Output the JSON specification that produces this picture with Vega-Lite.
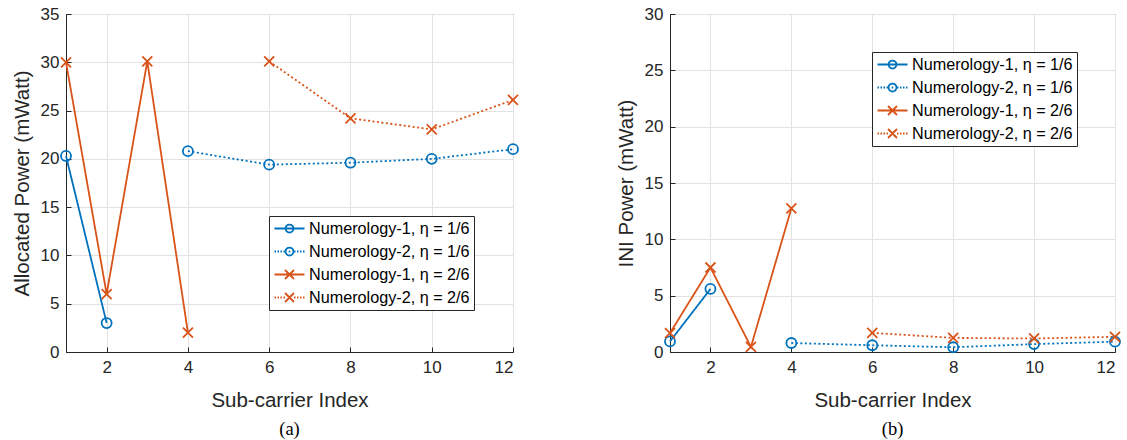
{
  "$schema": "https://vega.github.io/schema/vega-lite/v6.json",
  "padding": {"left": 11, "top": 4, "right": 5, "bottom": 2},
  "background": "white",
  "datasets": {
    "a": [
      {"x": 1, "y": 20.3, "s": "Numerology-1, η = 1/6"},
      {"x": 2, "y": 3.0, "s": "Numerology-1, η = 1/6"},
      {"x": 4, "y": 20.8, "s": "Numerology-2, η = 1/6"},
      {"x": 6, "y": 19.4, "s": "Numerology-2, η = 1/6"},
      {"x": 8, "y": 19.6, "s": "Numerology-2, η = 1/6"},
      {"x": 10, "y": 20.0, "s": "Numerology-2, η = 1/6"},
      {"x": 12, "y": 21.0, "s": "Numerology-2, η = 1/6"},
      {"x": 1, "y": 30.0, "s": "Numerology-1, η = 2/6"},
      {"x": 2, "y": 6.0, "s": "Numerology-1, η = 2/6"},
      {"x": 3, "y": 30.1, "s": "Numerology-1, η = 2/6"},
      {"x": 4, "y": 2.0, "s": "Numerology-1, η = 2/6"},
      {"x": 6, "y": 30.1, "s": "Numerology-2, η = 2/6"},
      {"x": 8, "y": 24.2, "s": "Numerology-2, η = 2/6"},
      {"x": 10, "y": 23.05, "s": "Numerology-2, η = 2/6"},
      {"x": 12, "y": 26.1, "s": "Numerology-2, η = 2/6"}
    ],
    "b": [
      {"x": 1, "y": 0.94, "s": "Numerology-1, η = 1/6"},
      {"x": 2, "y": 5.6, "s": "Numerology-1, η = 1/6"},
      {"x": 4, "y": 0.8, "s": "Numerology-2, η = 1/6"},
      {"x": 6, "y": 0.6, "s": "Numerology-2, η = 1/6"},
      {"x": 8, "y": 0.42, "s": "Numerology-2, η = 1/6"},
      {"x": 10, "y": 0.7, "s": "Numerology-2, η = 1/6"},
      {"x": 12, "y": 0.92, "s": "Numerology-2, η = 1/6"},
      {"x": 1, "y": 1.68, "s": "Numerology-1, η = 2/6"},
      {"x": 2, "y": 7.5, "s": "Numerology-1, η = 2/6"},
      {"x": 3, "y": 0.45, "s": "Numerology-1, η = 2/6"},
      {"x": 4, "y": 12.75, "s": "Numerology-1, η = 2/6"},
      {"x": 6, "y": 1.7, "s": "Numerology-2, η = 2/6"},
      {"x": 8, "y": 1.25, "s": "Numerology-2, η = 2/6"},
      {"x": 10, "y": 1.2, "s": "Numerology-2, η = 2/6"},
      {"x": 12, "y": 1.35, "s": "Numerology-2, η = 2/6"}
    ]
  },
  "config": {
    "font": "Liberation Sans",
    "view": {"stroke": "#262626", "strokeWidth": 1},
    "axis": {
      "labelFont": "Liberation Sans",
      "labelFontSize": 17,
      "labelColor": "#262626",
      "titleFont": "Liberation Sans",
      "titleFontSize": 20.5,
      "titleFontWeight": "normal",
      "titleColor": "#262626",
      "domainColor": "#262626",
      "tickColor": "#262626",
      "gridColor": "#e2e2e2",
      "tickSize": -5,
      "labelPadding": 12
    },
    "legend": {
      "title": null,
      "orient": "none",
      "symbolSize": 225,
      "symbolStrokeWidth": 1.8,
      "symbolOpacity": 1,
      "symbolOffset": 8,
      "labelFont": "Liberation Sans",
      "labelFontSize": 16.2,
      "labelColor": "#000000",
      "labelOffset": 11,
      "labelLimit": 400,
      "strokeColor": "#262626",
      "fillColor": "white",
      "padding": 4,
      "rowPadding": 6
    }
  },
  "spacing": 92,
  "resolve": {
    "scale": {"color": "independent", "stroke": "independent", "shape": "independent", "strokeDash": "independent"},
    "legend": {"color": "independent", "shape": "independent"}
  },
  "hconcat": [
    {
      "width": 447,
      "height": 338,
      "data": {"name": "a"},
      "title": {"text": "(a)", "orient": "bottom", "font": "Liberation Serif", "fontSize": 18.5, "fontWeight": "normal", "color": "#000000", "offset": 9},
      "encoding": {
        "x": {"field": "x", "type": "quantitative", "scale": {"domain": [1, 12], "nice": false, "zero": false},
              "axis": {"values": [2, 4, 6, 8, 10, 12], "title": "Sub-carrier Index", "titlePadding": 15}},
        "y": {"field": "y", "type": "quantitative", "scale": {"domain": [0, 35], "nice": false},
              "axis": {"values": [0, 5, 10, 15, 20, 25, 30, 35], "title": "Allocated Power (mWatt)", "titlePadding": 8}}
      },
      "resolve": {"scale": {"shape": "independent", "color": "independent"}, "legend": {"shape": "independent", "color": "independent"}},
      "layer": [
        {"mark": {"type": "line", "strokeWidth": 1.8},
         "encoding": {
           "stroke": {"field": "s", "type": "nominal",
             "scale": {"domain": ["Numerology-1, η = 1/6", "Numerology-2, η = 1/6", "Numerology-1, η = 2/6", "Numerology-2, η = 2/6"],
                       "range": ["#0072BD", "#0072BD", "#D95319", "#D95319"]},
             "legend": null},
           "strokeDash": {"field": "s", "type": "nominal",
             "scale": {"domain": ["Numerology-1, η = 1/6", "Numerology-2, η = 1/6", "Numerology-1, η = 2/6", "Numerology-2, η = 2/6"], "range": [[1, 0], [2, 2.5], [1, 0], [2, 2.5]]},
             "legend": null}}},
        {"mark": {"type": "point", "filled": false, "strokeWidth": 1.8, "size": 100, "opacity": 1},
         "encoding": {
           "stroke": {"field": "s", "type": "nominal", "legend": null},
           "shape": {"field": "s", "type": "nominal",
             "scale": {"domain": ["Numerology-1, η = 1/6", "Numerology-2, η = 1/6", "Numerology-1, η = 2/6", "Numerology-2, η = 2/6"], "range": ["circle", "circle", "M-1,-1L1,1M-1,1L1,-1", "M-1,-1L1,1M-1,1L1,-1"]},
             "legend": null}}},
        {"transform": [{"filter": "datum.x < 0"}],
         "mark": {"type": "point", "filled": false, "strokeWidth": 1.8},
         "encoding": {
           "color": {"field": "s", "type": "nominal",
             "scale": {"domain": ["Numerology-1, η = 1/6", "Numerology-2, η = 1/6", "Numerology-1, η = 2/6", "Numerology-2, η = 2/6"],
                       "range": ["#0072BD", "#0072BD", "#D95319", "#D95319"]},
             "legend": {"legendX": 203, "legendY": 202}},
           "shape": {"field": "s", "type": "nominal",
             "scale": {"domain": ["Numerology-1, η = 1/6", "Numerology-2, η = 1/6", "Numerology-1, η = 2/6", "Numerology-2, η = 2/6"],
                       "range": ["M-2,0L2,0M0.53,0A0.53,0.53,0,1,1,-0.53,0A0.53,0.53,0,1,1,0.53,0",
                                 "M-2,0L-1.8,0M-1.6,0L-1.4,0M-1.2,0L-1,0M-0.8,0L-0.6,0M-0.1,0L0.1,0M0.6,0L0.8,0M1,0L1.2,0M1.4,0L1.6,0M1.8,0L2,0M0.53,0A0.53,0.53,0,1,1,-0.53,0A0.53,0.53,0,1,1,0.53,0",
                                 "M-2,0L2,0M-0.6,-0.6L0.6,0.6M-0.6,0.6L0.6,-0.6",
                                 "M-2,0L-1.8,0M-1.6,0L-1.4,0M-1.2,0L-1,0M-0.8,0L-0.6,0M0.6,0L0.8,0M1,0L1.2,0M1.4,0L1.6,0M1.8,0L2,0M-0.6,-0.6L0.6,0.6M-0.6,0.6L0.6,-0.6"]},
             "legend": {"legendX": 203, "legendY": 202}}}}
      ]
    },
    {
      "width": 445,
      "height": 338,
      "data": {"name": "b"},
      "title": {"text": "(b)", "orient": "bottom", "font": "Liberation Serif", "fontSize": 18.5, "fontWeight": "normal", "color": "#000000", "offset": 9},
      "encoding": {
        "x": {"field": "x", "type": "quantitative", "scale": {"domain": [1, 12], "nice": false, "zero": false},
              "axis": {"values": [2, 4, 6, 8, 10, 12], "title": "Sub-carrier Index", "titlePadding": 15}},
        "y": {"field": "y", "type": "quantitative", "scale": {"domain": [0, 30], "nice": false},
              "axis": {"values": [0, 5, 10, 15, 20, 25, 30], "title": "INI Power (mWatt)", "titlePadding": 8}}
      },
      "resolve": {"scale": {"shape": "independent", "color": "independent"}, "legend": {"shape": "independent", "color": "independent"}},
      "layer": [
        {"mark": {"type": "line", "strokeWidth": 1.8},
         "encoding": {
           "stroke": {"field": "s", "type": "nominal",
             "scale": {"domain": ["Numerology-1, η = 1/6", "Numerology-2, η = 1/6", "Numerology-1, η = 2/6", "Numerology-2, η = 2/6"],
                       "range": ["#0072BD", "#0072BD", "#D95319", "#D95319"]},
             "legend": null},
           "strokeDash": {"field": "s", "type": "nominal",
             "scale": {"domain": ["Numerology-1, η = 1/6", "Numerology-2, η = 1/6", "Numerology-1, η = 2/6", "Numerology-2, η = 2/6"], "range": [[1, 0], [2, 2.5], [1, 0], [2, 2.5]]},
             "legend": null}}},
        {"mark": {"type": "point", "filled": false, "strokeWidth": 1.8, "size": 100, "opacity": 1},
         "encoding": {
           "stroke": {"field": "s", "type": "nominal", "legend": null},
           "shape": {"field": "s", "type": "nominal",
             "scale": {"domain": ["Numerology-1, η = 1/6", "Numerology-2, η = 1/6", "Numerology-1, η = 2/6", "Numerology-2, η = 2/6"], "range": ["circle", "circle", "M-1,-1L1,1M-1,1L1,-1", "M-1,-1L1,1M-1,1L1,-1"]},
             "legend": null}}},
        {"transform": [{"filter": "datum.x < 0"}],
         "mark": {"type": "point", "filled": false, "strokeWidth": 1.8},
         "encoding": {
           "color": {"field": "s", "type": "nominal",
             "scale": {"domain": ["Numerology-1, η = 1/6", "Numerology-2, η = 1/6", "Numerology-1, η = 2/6", "Numerology-2, η = 2/6"],
                       "range": ["#0072BD", "#0072BD", "#D95319", "#D95319"]},
             "legend": {"legendX": 202, "legendY": 38}},
           "shape": {"field": "s", "type": "nominal",
             "scale": {"domain": ["Numerology-1, η = 1/6", "Numerology-2, η = 1/6", "Numerology-1, η = 2/6", "Numerology-2, η = 2/6"],
                       "range": ["M-2,0L2,0M0.53,0A0.53,0.53,0,1,1,-0.53,0A0.53,0.53,0,1,1,0.53,0",
                                 "M-2,0L-1.8,0M-1.6,0L-1.4,0M-1.2,0L-1,0M-0.8,0L-0.6,0M-0.1,0L0.1,0M0.6,0L0.8,0M1,0L1.2,0M1.4,0L1.6,0M1.8,0L2,0M0.53,0A0.53,0.53,0,1,1,-0.53,0A0.53,0.53,0,1,1,0.53,0",
                                 "M-2,0L2,0M-0.6,-0.6L0.6,0.6M-0.6,0.6L0.6,-0.6",
                                 "M-2,0L-1.8,0M-1.6,0L-1.4,0M-1.2,0L-1,0M-0.8,0L-0.6,0M0.6,0L0.8,0M1,0L1.2,0M1.4,0L1.6,0M1.8,0L2,0M-0.6,-0.6L0.6,0.6M-0.6,0.6L0.6,-0.6"]},
             "legend": {"legendX": 202, "legendY": 38}}}}
      ]
    }
  ]
}
